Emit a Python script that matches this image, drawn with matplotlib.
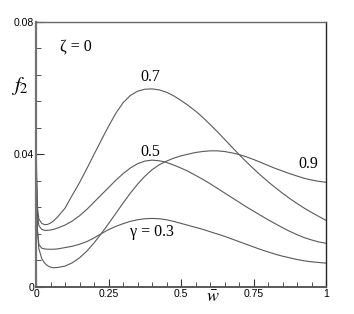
import matplotlib
matplotlib.use("Agg")
import matplotlib.pyplot as plt
from matplotlib.ticker import MultipleLocator

# -------------------------------
# datos: w barra (comun) y f2 para cada gamma
w_bar = [0.0, 0.002, 0.005, 0.01, 0.02, 0.03, 0.04, 0.05, 0.06, 0.075,
         0.1, 0.125, 0.15, 0.175, 0.2, 0.225, 0.25, 0.275, 0.3, 0.325,
         0.35, 0.375, 0.4, 0.425, 0.45, 0.475, 0.5, 0.525, 0.55, 0.575,
         0.6, 0.625, 0.65, 0.675, 0.7, 0.725, 0.75, 0.775, 0.8, 0.825,
         0.85, 0.875, 0.9, 0.925, 0.95, 0.975, 1.0]

f_03 = [0.052, 0.030, 0.017, 0.0128, 0.0117, 0.0115, 0.0114, 0.0114, 0.0114, 0.0115,
        0.0119, 0.0123, 0.0129, 0.0137, 0.0148, 0.0161, 0.0173, 0.0183, 0.0191, 0.0198,
        0.0203, 0.0206, 0.0207, 0.0206, 0.0203, 0.0198, 0.0192, 0.0186, 0.0180, 0.0174,
        0.0167, 0.0160, 0.0153, 0.0145, 0.0137, 0.0129, 0.0121, 0.0113, 0.0106, 0.0099,
        0.0093, 0.0088, 0.0083, 0.0079, 0.0076, 0.0074, 0.0072]

f_05 = [0.052, 0.032, 0.022, 0.0185, 0.0174, 0.0171, 0.0171, 0.0172, 0.0174, 0.0178,
        0.0187, 0.0199, 0.0215, 0.0234, 0.0256, 0.0278, 0.0300, 0.0322, 0.0342, 0.0359,
        0.0372, 0.0380, 0.0383, 0.0381, 0.0376, 0.0368, 0.0359, 0.0349, 0.0337, 0.0325,
        0.0312, 0.0298, 0.0284, 0.0270, 0.0256, 0.0242, 0.0229, 0.0216, 0.0203, 0.0191,
        0.0179, 0.0168, 0.0158, 0.0149, 0.0142, 0.0136, 0.0132]

f_07 = [0.052, 0.034, 0.024, 0.0205, 0.0192, 0.0188, 0.0189, 0.0193, 0.0199, 0.0212,
        0.0238, 0.0277, 0.0315, 0.0357, 0.0400, 0.0443, 0.0485, 0.0524, 0.0556, 0.0578,
        0.0591, 0.0597, 0.0598, 0.0595, 0.0588, 0.0577, 0.0563, 0.0548, 0.0531, 0.0512,
        0.0491, 0.0469, 0.0446, 0.0423, 0.0400, 0.0378, 0.0357, 0.0337, 0.0318, 0.0300,
        0.0283, 0.0267, 0.0252, 0.0238, 0.0225, 0.0213, 0.0201]

f_09 = [0.052, 0.028, 0.017, 0.0115, 0.0085, 0.0072, 0.0064, 0.0060, 0.0058, 0.0059,
        0.0063, 0.0073, 0.0088, 0.0108, 0.0133, 0.0161, 0.0191, 0.0222, 0.0253, 0.0283,
        0.0310, 0.0334, 0.0354, 0.0369, 0.0380, 0.0389, 0.0396, 0.0401, 0.0406, 0.0409,
        0.0411, 0.0411, 0.0409, 0.0405, 0.0400, 0.0393, 0.0385, 0.0376, 0.0367, 0.0358,
        0.0350, 0.0342, 0.0335, 0.0328, 0.0323, 0.0319, 0.0316]

x_ticks = [0, 0.25, 0.5, 0.75, 1]
x_tick_labels = ["0", "0.25", "0.5", "0.75", "1"]
y_ticks = [0, 0.04, 0.08]
y_tick_labels = ["0", "0.04", "0.08"]

curvas = [f_03, f_05, f_07, f_09]

plt.rcParams['mathtext.fontset'] = 'stix'

fig = plt.figure(figsize=(3.54, 3.14), dpi=100)
ax = fig.add_axes([0.1017, 0.086, 0.8193, 0.844])

for f in curvas:
    ax.plot(w_bar, f, color='0.35', lw=0.8)

ax.set_xlim(0, 1)
ax.set_ylim(0, 0.08)
ax.set_xticks(x_ticks)
ax.set_xticklabels(x_tick_labels)
ax.set_yticks(y_ticks)
ax.set_yticklabels(y_tick_labels)
ax.xaxis.set_minor_locator(MultipleLocator(0.05))
ax.yaxis.set_minor_locator(MultipleLocator(0.008))
ax.tick_params(which='both', direction='in', top=False, right=False, color='0.2')
ax.tick_params(which='major', length=6, width=0.8, labelsize=7.5, pad=1.5)
ax.tick_params(which='minor', length=3.5, width=0.6)
for lab in ax.get_xticklabels() + ax.get_yticklabels():
    lab.set_family('Liberation Sans')

ax.spines['left'].set_linewidth(1.6)
ax.spines['left'].set_color('0.45')
ax.spines['bottom'].set_linewidth(1.4)
ax.spines['bottom'].set_color('0.35')
ax.spines['top'].set_linewidth(1.0)
ax.spines['top'].set_color('0.4')
ax.spines['right'].set_linewidth(1.0)
ax.spines['right'].set_color('0.15')

serif = dict(family='Liberation Serif', fontsize=11.5, ha='center', va='center')
ax.text(0.138, 0.0725, "\u03b6 = 0", **serif)
ax.text(0.393, 0.0635, "0.7", **serif)
ax.text(0.393, 0.0409, "0.5", **serif)
ax.text(0.938, 0.037, "0.9", **serif)
ax.text(0.40, 0.0165, "\u03b3 = 0.3", **serif)

fig.text(0.056, 0.726, r"$f_2$", fontsize=15, ha='center', va='center')
fig.text(0.60, 0.054, r"$\bar{w}$", fontsize=13, ha='center', va='center')

fig.savefig("out.png", dpi=100)
